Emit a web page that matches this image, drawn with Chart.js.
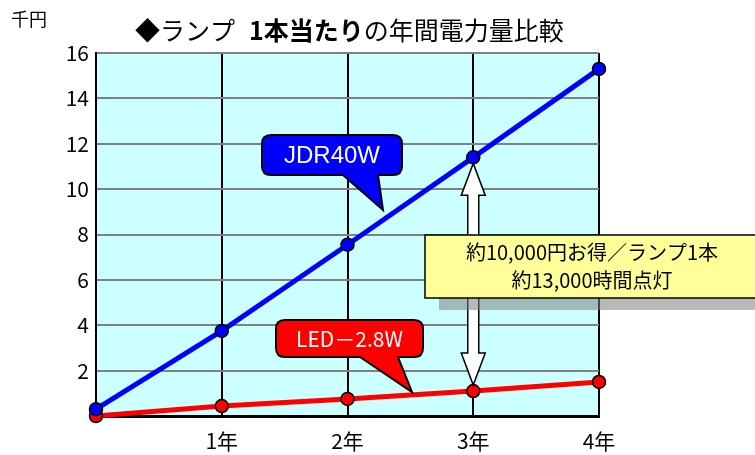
<!DOCTYPE html>
<html>
<head>
<meta charset="utf-8">
<script src="https://cdn.jsdelivr.net/npm/chart.js@4/dist/chart.umd.min.js"></script>
<style>
  html, body { margin: 0; padding: 0; background: #fff; }
  #wrap { width: 755px; height: 455px; position: relative; }
</style>
</head>
<body>
<div id="wrap"><canvas id="chart"></canvas></div>
<script>
// ---- Data ----
const years = [0, 1, 2, 3, 4];
const yearLabels = ['', '1年', '2年', '3年', '4年'];
const jdrValues = [0.3, 3.75, 7.55, 11.4, 15.3];   // JDR40W (千円)
const ledValues = [0, 0.44, 0.75, 1.1, 1.5];       // LED－2.8W (千円)
const yTickLabels = [2, 4, 6, 8, 10, 12, 14, 16];

const JP = "'Noto Sans CJK JP', 'Noto Sans', sans-serif";
const LAT = "'Liberation Sans', Arial, sans-serif";

// ---- Plot background ----
const plotBg = {
  id: 'plotBg',
  beforeDraw(chart) {
    const { ctx, chartArea: a } = chart;
    ctx.save();
    ctx.fillStyle = '#CCFFFF';
    ctx.fillRect(a.left, a.top, a.right - a.left, a.bottom - a.top);
    ctx.restore();
  }
};

// speech bubble with a tail from the bottom edge
function callout(ctx, box, tail, fill, text, font) {
  const { x, y, w, h } = box, r = 9;
  ctx.save();
  ctx.beginPath();
  ctx.moveTo(x + r, y);
  ctx.lineTo(x + w - r, y);
  ctx.quadraticCurveTo(x + w, y, x + w, y + r);
  ctx.lineTo(x + w, y + h - r);
  ctx.quadraticCurveTo(x + w, y + h, x + w - r, y + h);
  ctx.lineTo(tail.x2, y + h);
  ctx.lineTo(tail.tx, tail.ty);
  ctx.lineTo(tail.x1, y + h);
  ctx.lineTo(x + r, y + h);
  ctx.quadraticCurveTo(x, y + h, x, y + h - r);
  ctx.lineTo(x, y + r);
  ctx.quadraticCurveTo(x, y, x + r, y);
  ctx.closePath();
  ctx.fillStyle = fill;
  ctx.fill();
  ctx.lineWidth = 2;
  ctx.strokeStyle = '#000';
  ctx.stroke();
  ctx.fillStyle = '#fff';
  ctx.font = font;
  ctx.textAlign = 'center';
  ctx.textBaseline = 'middle';
  ctx.fillText(text, x + w / 2, y + h / 2 + 1);
  ctx.restore();
}

// ---- Annotations: title, unit, callouts, arrow, note box ----
const annotations = {
  id: 'annotations',
  afterDatasetsDraw(chart) {
    const { ctx, scales } = chart;
    const xs = scales.x, ys = scales.y;

    // title (mixed weight)
    ctx.save();
    ctx.fillStyle = '#000';
    ctx.textBaseline = 'middle';
    ctx.textAlign = 'left';
    const parts = [
      ['◆ランプ', 'normal', 14],
      ['1本当たり', 'bold', 0],
      ['の年間電力量比較', 'normal', 0]
    ];
    let tx = 135;
    parts.forEach(p => {
      ctx.font = p[1] + ' 25px ' + JP;
      ctx.fillText(p[0], tx, 30);
      tx += ctx.measureText(p[0]).width + p[2];
    });
    // unit
    ctx.font = '18px ' + JP;
    ctx.fillText('千円', 11, 19);
    ctx.restore();

    // white double arrow between the two 3年 points
    const ax = xs.getPixelForValue(3);
    const top = ys.getPixelForValue(jdrValues[3]) + 6;
    const bot = ys.getPixelForValue(ledValues[3]) - 6;
    const sw = 5.5, hw = 12, hl = 32;
    ctx.save();
    ctx.beginPath();
    ctx.moveTo(ax, top);
    ctx.lineTo(ax + hw, top + hl);
    ctx.lineTo(ax + sw, top + hl);
    ctx.lineTo(ax + sw, bot - hl);
    ctx.lineTo(ax + hw, bot - hl);
    ctx.lineTo(ax, bot);
    ctx.lineTo(ax - hw, bot - hl);
    ctx.lineTo(ax - sw, bot - hl);
    ctx.lineTo(ax - sw, top + hl);
    ctx.lineTo(ax - hw, top + hl);
    ctx.closePath();
    ctx.fillStyle = '#fff';
    ctx.fill();
    ctx.lineWidth = 1.5;
    ctx.strokeStyle = '#000';
    ctx.stroke();
    ctx.restore();

    // series callouts
    callout(ctx, { x: 262, y: 135, w: 140, h: 40 },
      { x1: 343, x2: 378, tx: 383, ty: 210 }, '#0000FF', 'JDR40W', '24px ' + LAT);
    callout(ctx, { x: 276, y: 320, w: 147, h: 37 },
      { x1: 360, x2: 398, tx: 412, ty: 392 }, '#FF0000', 'LED－2.8W', '21px ' + JP);

    // note box with shadow
    ctx.save();
    ctx.fillStyle = 'rgba(128,128,128,0.55)';
    ctx.fillRect(439, 247, 330, 63);
    ctx.fillStyle = '#FFFF99';
    ctx.fillRect(425, 235, 340, 63);
    ctx.lineWidth = 1.5;
    ctx.strokeStyle = '#000';
    ctx.strokeRect(425, 235, 340, 63);
    ctx.fillStyle = '#000';
    ctx.font = '20px ' + JP;
    ctx.textAlign = 'center';
    ctx.textBaseline = 'middle';
    ctx.fillText('約10,000円お得／ランプ1本', 592, 252);
    ctx.fillText('約13,000時間点灯', 592, 280);
    ctx.restore();
  }
};

const ctx = document.getElementById('chart');
new Chart(ctx, {
  type: 'line',
  data: {
    datasets: [
      {
        label: 'JDR40W',
        data: years.map((x, i) => ({ x, y: jdrValues[i] })),
        borderColor: '#0000FF',
        borderWidth: 5,
        pointRadius: 6.5,
        pointBackgroundColor: '#0000FF',
        pointBorderColor: '#000',
        pointBorderWidth: 1.5,
        tension: 0,
        clip: false,
      },
      {
        label: 'LED－2.8W',
        data: years.map((x, i) => ({ x, y: ledValues[i] })),
        borderColor: '#FF0000',
        borderWidth: 5,
        pointRadius: 6.5,
        pointBackgroundColor: '#FF0000',
        pointBorderColor: '#000',
        pointBorderWidth: 1.5,
        tension: 0,
        clip: false,
      }
    ]
  },
  options: {
    responsive: true,
    maintainAspectRatio: false,
    animation: false,
    events: [],
    layout: { padding: { top: 53, right: 156, bottom: 0, left: 0 } },
    plugins: {
      legend: { display: false },
      tooltip: { enabled: false }
    },
    scales: {
      x: {
        type: 'linear',
        min: 0,
        max: 4,
        afterFit: s => { s.height = 39; },
        border: { color: '#000', width: 3 },
        grid: { color: '#000', lineWidth: 2, drawTicks: false },
        ticks: {
          stepSize: 1,
          padding: 12,
          color: '#000',
          font: { family: JP, size: 21 },
          callback: v => yearLabels[v] || ''
        }
      },
      y: {
        min: 0,
        max: 16,
        afterFit: s => { s.width = 96; },
        border: { color: '#000', width: 2 },
        grid: { color: '#808080', lineWidth: 2, drawTicks: false },
        ticks: {
          stepSize: 1,
          padding: 7,
          color: '#000',
          font: { family: JP, size: 21 },
          callback: v => yTickLabels.includes(v) ? String(v) : ''
        }
      }
    }
  },
  plugins: [plotBg, annotations]
});
</script>
</body>
</html>
